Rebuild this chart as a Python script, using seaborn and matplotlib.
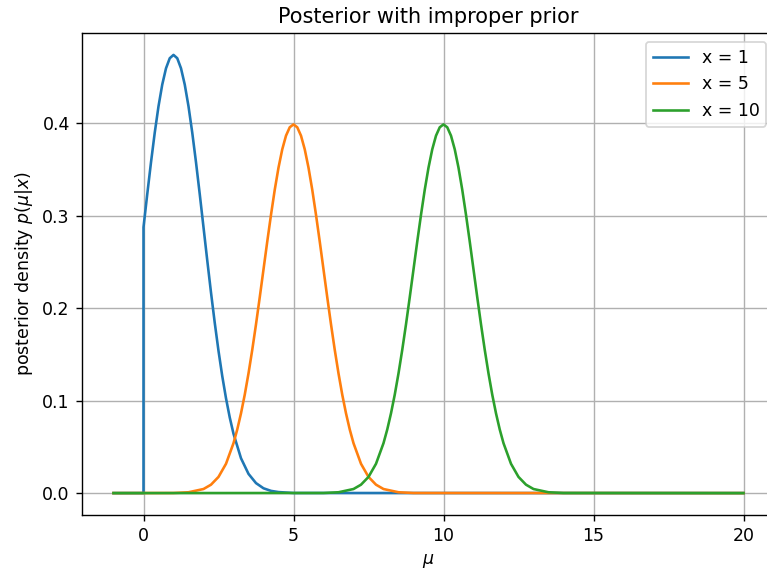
import matplotlib
matplotlib.use("Agg")
import matplotlib.pyplot as plt
import seaborn as sns
import pandas as pd

# x = 1 (truncated at mu = 0)
mu_x1 = [-1.0, 0.0, 0.0, 0.125, 0.25, 0.375, 0.5, 0.625, 0.75, 0.875, 1.0, 1.125,
         1.25, 1.375, 1.5, 1.625, 1.75, 1.875, 2.0, 2.125, 2.25, 2.375, 2.5, 2.625,
         2.75, 2.875, 3.0, 3.25, 3.5, 3.75, 4.0, 4.25, 4.5, 5.0, 20.0]
p_x1 = [0.0, 0.0, 0.2876, 0.3234, 0.3579, 0.3900, 0.4185, 0.4420, 0.4596, 0.4705,
        0.4741, 0.4705, 0.4596, 0.4420, 0.4185, 0.3900, 0.3579, 0.3234, 0.2876,
        0.2518, 0.2170, 0.1842, 0.1539, 0.1266, 0.1026, 0.0818, 0.0642, 0.0377,
        0.0208, 0.0108, 0.0052, 0.0024, 0.0011, 0.0001, 0.0]

# x = 5
mu_x5 = [-1.0, 1.0, 1.5, 2.0, 2.25, 2.5, 2.75, 3.0, 3.125, 3.25, 3.375, 3.5, 3.625,
         3.75, 3.875, 4.0, 4.125, 4.25, 4.375, 4.5, 4.625, 4.75, 4.875, 5.0, 5.125,
         5.25, 5.375, 5.5, 5.625, 5.75, 5.875, 6.0, 6.125, 6.25, 6.375, 6.5, 6.625,
         6.75, 6.875, 7.0, 7.25, 7.5, 7.75, 8.0, 8.5, 9.0, 20.0]
p_x5 = [0.0, 0.0001, 0.0009, 0.0044, 0.0091, 0.0175, 0.0317, 0.0540, 0.0688, 0.0863,
        0.1065, 0.1295, 0.1550, 0.1826, 0.2119, 0.2420, 0.2721, 0.3011, 0.3282,
        0.3521, 0.3719, 0.3867, 0.3958, 0.3989, 0.3958, 0.3867, 0.3719, 0.3521,
        0.3282, 0.3011, 0.2721, 0.2420, 0.2119, 0.1826, 0.1550, 0.1295, 0.1065,
        0.0863, 0.0688, 0.0540, 0.0317, 0.0175, 0.0091, 0.0044, 0.0009, 0.0001, 0.0]

# x = 10
mu_x10 = [-1.0, 6.0, 6.5, 7.0, 7.25, 7.5, 7.75, 8.0, 8.125, 8.25, 8.375, 8.5, 8.625,
          8.75, 8.875, 9.0, 9.125, 9.25, 9.375, 9.5, 9.625, 9.75, 9.875, 10.0, 10.125,
          10.25, 10.375, 10.5, 10.625, 10.75, 10.875, 11.0, 11.125, 11.25, 11.375,
          11.5, 11.625, 11.75, 11.875, 12.0, 12.25, 12.5, 12.75, 13.0, 13.5, 14.0, 20.0]
p_x10 = [0.0, 0.0001, 0.0009, 0.0044, 0.0091, 0.0175, 0.0317, 0.0540, 0.0688, 0.0863,
         0.1065, 0.1295, 0.1550, 0.1826, 0.2119, 0.2420, 0.2721, 0.3011, 0.3282,
         0.3521, 0.3719, 0.3867, 0.3958, 0.3989, 0.3958, 0.3867, 0.3719, 0.3521,
         0.3282, 0.3011, 0.2721, 0.2420, 0.2119, 0.1826, 0.1550, 0.1295, 0.1065,
         0.0863, 0.0688, 0.0540, 0.0317, 0.0175, 0.0091, 0.0044, 0.0009, 0.0001, 0.0]

labels = ["x = 1", "x = 5", "x = 10"]
colors = ["#1f77b4", "#ff7f0e", "#2ca02c"]

DPI = 125
fig = plt.figure(figsize=(767 / DPI, 571 / DPI), dpi=DPI)
# axes extends slightly past the right edge of the figure (cropped like the reference)
ax = fig.add_axes([82 / 767, 56 / 571, 693 / 767, 482 / 571])

for mu, p, lab, c in zip([mu_x1, mu_x5, mu_x10], [p_x1, p_x5, p_x10], labels, colors):
    df = pd.DataFrame({"mu": mu, "p": p})
    sns.lineplot(data=df, x="mu", y="p", ax=ax, estimator=None, sort=False,
                 color=c, label=lab, linewidth=1.5)

ax.set_xticks([0, 5, 10, 15, 20])
ax.set_yticks([0.0, 0.1, 0.2, 0.3, 0.4])
ax.grid(True)
ax.set_title("Posterior with improper prior", fontsize=12)
ax.set_xlabel(r"$\mu$")
ax.set_ylabel(r"posterior density $p(\mu|x)$")
ax.legend(loc="upper right")

fig.savefig("out.png", dpi=DPI)
